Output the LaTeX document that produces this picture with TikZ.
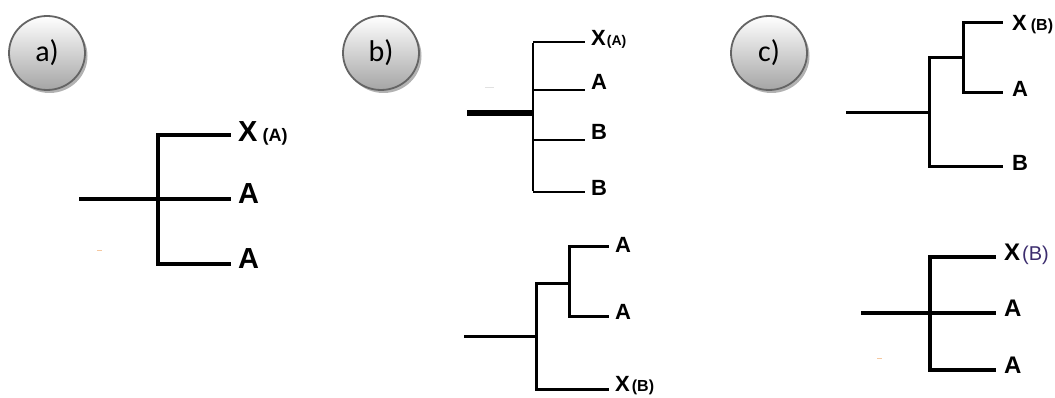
\documentclass[tikz,border=0pt]{standalone}
\usepackage{fontspec}
\setmainfont{Liberation Sans}
\newfontfamily\calibrifont{Carlito}
\usetikzlibrary{shadows,shapes.geometric}
\definecolor{rimgrey}{RGB}{100,100,100}
\definecolor{botgrey}{RGB}{165,165,165}
\definecolor{bpurple}{RGB}{60,45,110}
\definecolor{artorange}{RGB}{245,200,160}
\definecolor{artgrey}{RGB}{225,225,225}
\tikzset{
  badge/.style={ellipse,minimum width=76pt,minimum height=74pt,inner sep=0pt,
    draw=rimgrey,line width=1.8pt,top color=white,bottom color=botgrey,
    drop shadow={shadow xshift=2.5pt,shadow yshift=-3pt,fill=black,opacity=0.3},
    font=\calibrifont\fontsize{30}{30}\selectfont},
  leaf/.style={anchor=west,inner sep=0pt,text height=0.72em,text depth=0pt,font=\bfseries},
  big/.style={leaf,font=\bfseries\fontsize{29}{29}\selectfont,xshift=7pt},
  mid/.style={leaf,font=\bfseries\fontsize{22}{22}\selectfont,xshift=6pt},
  br/.style={line width=3.3pt,line cap=rect},
  brthin/.style={line width=2.5pt},
  brmid/.style={line width=3pt,line cap=rect},
}
\newcommand{\smallpar}[1]{{\fontsize{18}{18}\selectfont#1}}
\newcommand{\midpar}[1]{{\fontsize{16}{16}\selectfont#1}}
\newcommand{\tinypar}[1]{{\fontsize{14}{14}\selectfont#1}}
\begin{document}
\begin{tikzpicture}[x=1pt,y=-1pt]
\useasboundingbox (0,0) rectangle (1055,398);
% badges
\node[badge] (ba) at (47,53) {a)};
\node[badge] (bb) at (381,53) {b)};
\node[badge] (bc) at (769,53) {c)};

% ---------- tree a ----------
\coordinate (a0) at (79,199);
\coordinate (aj) at (158,199);
\coordinate (aj1) at (158,135);
\coordinate (aj3) at (158,264);
\coordinate (al1) at (231,135);
\coordinate (al2) at (231,199);
\coordinate (al3) at (231,264);
\draw[br,line cap=butt] (a0) -- (aj);
\draw[br] (aj1) -- (aj3);
\draw[br,line cap=butt] (aj1) -- (al1);
\draw[br,line cap=butt] (aj) -- (al2);
\draw[br,line cap=butt] (aj3) -- (al3);
\node[big] (ta1) at ([yshift=-3pt]al1) {X\hspace{5pt}\smallpar{(A)}};
\node[big] (ta2) at ([yshift=-1pt]al2) {A};
\node[big] (ta3) at ([yshift=-1pt]al3) {A};
\draw[artorange,line width=0.8pt] (97,250) -- (102,250);

% ---------- tree b top ----------
\coordinate (b0) at (467,113);
\coordinate (bj) at (533,113);
\coordinate (bj1) at (533,42);
\coordinate (bj2) at (533,90);
\coordinate (bj3) at (533,140);
\coordinate (bj4) at (533,192);
\coordinate (bl1) at (585,42);
\coordinate (bl2) at (585,90);
\coordinate (bl3) at (585,140);
\coordinate (bl4) at (585,192);
\draw[line width=6pt] (b0) -- (bj);
\draw[brthin] ([yshift=-1.2pt]bj1) -- ([yshift=1.2pt]bj4);
\draw[brthin] (bj1) -- (bl1);
\draw[brthin] (bj2) -- (bl2);
\draw[brthin] (bj3) -- (bl3);
\draw[brthin] (bj4) -- (bl4);
\node[mid] (tb1) at (bl1) {X\hspace{1pt}\tinypar{(A)}};
\node[mid] (tb2) at ([yshift=4pt]bl2) {A};
\node[mid] (tb3) at ([yshift=4pt]bl3) {B};
\node[mid] (tb4) at (bl4) {B};
\draw[artgrey,line width=1pt] (485,88) -- (494,88);

% ---------- tree b bottom ----------
\coordinate (c0) at (464,336);
\coordinate (cj) at (536,336);
\coordinate (cj1) at (536,283);
\coordinate (cj3) at (536,389);
\coordinate (ck) at (569,283);
\coordinate (ck1) at (569,247);
\coordinate (ck2) at (569,316);
\coordinate (cl1) at (609,247);
\coordinate (cl2) at (609,316);
\coordinate (cl3) at (609,389);
\draw[brmid,line cap=butt] (c0) -- (cj);
\draw[brmid] (cj1) -- (cj3);
\draw[brmid] (cj1) -- (ck);
\draw[brmid] (ck1) -- (ck2);
\draw[brmid,line cap=butt] (ck1) -- (cl1);
\draw[brmid,line cap=butt] (ck2) -- (cl2);
\draw[brmid,line cap=butt] (cj3) -- (cl3);
\node[mid] (tc1) at ([yshift=-2pt]cl1) {A};
\node[mid] (tc2) at (cl2) {A};
\node[mid] (tc3) at ([yshift=1pt]cl3) {X\hspace{2pt}\midpar{(B)}};

% ---------- tree c top ----------
\coordinate (d0) at (846,113);
\coordinate (dj) at (929,113);
\coordinate (dj1) at (929,58);
\coordinate (dj3) at (929,167);
\coordinate (dk) at (963,58);
\coordinate (dk1) at (963,23);
\coordinate (dk2) at (963,93);
\coordinate (dl1) at (1003,23);
\coordinate (dl2) at (1003,93);
\coordinate (dl3) at (1003,167);
\draw[brmid,line cap=butt] (d0) -- (dj);
\draw[brmid] (dj1) -- (dj3);
\draw[brmid] (dj1) -- (dk);
\draw[brmid] (dk1) -- (dk2);
\draw[brmid,line cap=butt] (dk1) -- (dl1);
\draw[brmid,line cap=butt] (dk2) -- (dl2);
\draw[brmid,line cap=butt] (dj3) -- (dl3);
\node[mid,xshift=3pt] (td1) at ([yshift=-4pt]dl1) {X\hspace{4pt}\midpar{(B)}};
\node[mid,xshift=3pt] (td2) at (dl2) {A};
\node[mid,xshift=3pt] (td3) at (dl3) {B};

% ---------- tree c bottom ----------
\coordinate (e0) at (861,313);
\coordinate (ej) at (930,313);
\coordinate (ej1) at (930,257);
\coordinate (ej3) at (930,370);
\coordinate (el1) at (996,257);
\coordinate (el2) at (996,313);
\coordinate (el3) at (996,370);
\draw[br,line cap=butt] (e0) -- (ej);
\draw[br] (ej1) -- (ej3);
\draw[br,line cap=butt] (ej1) -- (el1);
\draw[br,line cap=butt] (ej) -- (el2);
\draw[br,line cap=butt] (ej3) -- (el3);
\node[mid,xshift=2pt,font=\bfseries\fontsize{24}{24}\selectfont] (te1) at (el1) {X\hspace{2pt}{\mdseries\color{bpurple}\fontsize{20}{20}\selectfont(B)}};
\node[mid,xshift=2pt,font=\bfseries\fontsize{24}{24}\selectfont] (te2) at (el2) {A};
\node[mid,xshift=2pt,font=\bfseries\fontsize{24}{24}\selectfont] (te3) at (el3) {A};
\draw[artorange,line width=0.8pt] (877,358) -- (882,358);
\end{tikzpicture}
\end{document}
